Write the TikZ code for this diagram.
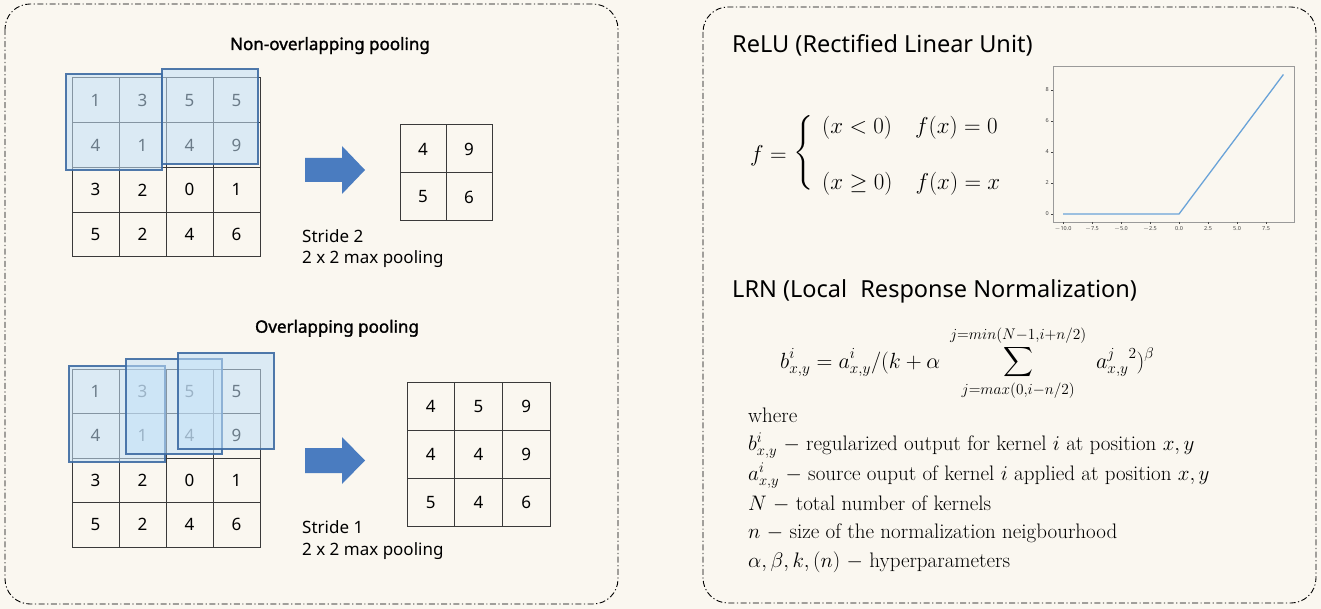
\RequirePackage{fix-cm}
\documentclass[tikz,border=0pt]{standalone}
\usepackage{exscale}
\usepackage{fontspec}
\newfontfamily\uisans{Noto Sans}
\newfontfamily\uisansbf{Noto Sans}[FakeBold=1.6]
\definecolor{bgcream}{HTML}{FAF7F0}
\definecolor{gridgray}{HTML}{3A3A3A}
\definecolor{winfill}{HTML}{C3E1F9}
\definecolor{winborder}{HTML}{3D6BA3}
\definecolor{arrowblue}{HTML}{4A7CC0}
\definecolor{plotline}{HTML}{6AA3D8}
\definecolor{plotframe}{HTML}{9A9A9A}
\definecolor{ticktext}{HTML}{444444}
\begin{document}
\begin{tikzpicture}[x=1pt,y=-1pt,
  panel/.style={draw=black, line width=0.9pt, rounded corners=25pt,
    dash pattern=on 6pt off 2.5pt on 1.2pt off 2.5pt},
  cell/.style={draw=gridgray, line width=1pt, inner sep=0pt,
    font=\uisans\fontsize{17}{17}\selectfont, text=black},
  win/.style={draw=winborder, line width=1.3pt, fill=winfill,
    fill opacity=0.55, draw opacity=0.9, inner sep=0pt},
  bigarrow/.style={fill=arrowblue},
  secttitle/.style={anchor=base, inner sep=0pt, font=\uisansbf\fontsize{17}{20}\selectfont},
  caption/.style={anchor=base west, inner sep=0pt, font=\uisans\fontsize{17}{20}\selectfont},
  bigtitle/.style={anchor=base west, inner sep=0pt, font=\uisans\fontsize{23.5}{28}\selectfont},
  tick/.style={draw=ticktext, line width=0.4pt},
  ticklab/.style={inner sep=0pt, text=ticktext, font=\uisans\fontsize{5.5}{6}\selectfont},
  relutext/.style={anchor=base west, inner sep=0pt, font=\fontsize{23}{27}\selectfont},
  whereline/.style={anchor=base west, inner sep=0pt, font=\fontsize{21}{24}\selectfont}
]
\useasboundingbox (0,0) rectangle (1321,609);
\fill[bgcream] (0,0) rectangle (1321,609);

% panels
\draw[panel] (5,4) rectangle (618,604);
\draw[panel] (703,7) rectangle (1316,603);

% ---------- Non-overlapping pooling ----------
\node[secttitle] (t1) at (330,50) {Non-overlapping pooling};
\foreach \row [count=\r] in {{1,3,5,5},{4,1,4,9},{3,2,0,1},{5,2,4,6}} {
  \foreach \v [count=\c] in \row {
    \node[cell, minimum width=47pt, minimum height=44.75pt] (a\r\c)
      at ({72+47*(\c-0.5)},{78+44.75*(\r-0.5)}) {\v};
  }
}
\node[win, minimum width=96pt, minimum height=96pt] (wa1) at (114,122) {};
\node[win, minimum width=96pt, minimum height=95pt] (wa2) at (210,116.5) {};

\fill[bigarrow] (305,158) -- (342,158) -- (342,146) -- (365,170) -- (342,194) -- (342,182) -- (305,182) -- cycle;

\foreach \row [count=\r] in {{4,9},{5,6}} {
  \foreach \v [count=\c] in \row {
    \node[cell, minimum width=46pt, minimum height=48pt] (p\r\c)
      at ({400+46*(\c-0.5)},{125+48*(\r-0.5)}) {\v};
  }
}
\node[caption] (s1a) at (302,243) {Stride 2};
\node[caption] (s1b) at (302,264) {2 x 2 max pooling};

% ---------- Overlapping pooling ----------
\node[secttitle] (t2) at (337,332.7) {Overlapping pooling};
\foreach \row [count=\r] in {{1,3,5,5},{4,1,4,9},{3,2,0,1},{5,2,4,6}} {
  \foreach \v [count=\c] in \row {
    \node[cell, minimum width=47pt, minimum height=44.5pt] (b\r\c)
      at ({72+47*(\c-0.5)},{369+44.5*(\r-0.5)}) {\v};
  }
}
\node[win, minimum width=96pt, minimum height=96pt] (wb1) at (117,414) {};
\node[win, minimum width=96pt, minimum height=95pt] (wb2) at (174,406.5) {};
\node[win, minimum width=96pt, minimum height=96pt] (wb3) at (226,401) {};

\fill[bigarrow] (305,448) -- (342,448) -- (342,437) -- (365,460.5) -- (342,484) -- (342,473) -- (305,473) -- cycle;

\foreach \row [count=\r] in {{4,5,9},{4,4,9},{5,4,6}} {
  \foreach \v [count=\c] in \row {
    \node[cell, minimum width=47.7pt, minimum height=48.3pt] (q\r\c)
      at ({407+47.7*(\c-0.5)},{382+48.3*(\r-0.5)}) {\v};
  }
}
\node[caption] (s2a) at (302,533) {Stride 1};
\node[caption] (s2b) at (302,555) {2 x 2 max pooling};

% ---------- ReLU ----------
\node[bigtitle] (relu) at (732,53) {ReLU (Rectified Linear Unit)};
\node[relutext] (fx) at (750,162) {$f =$};
\node[inner sep=0pt, font=\fontsize{23}{27}\selectfont] (brace) at (804,153)
  {$\left\{\rule[-30pt]{0pt}{60pt}\right.$};
\node[relutext] (row1) at (822,134) {$(x<0)\quad f(x)=0$};
\node[relutext] (row2) at (822,190) {$(x\ge 0)\quad f(x)=x$};

% plot
\draw[plotframe, line width=0.8pt] (1053,66) rectangle (1294,222);
\foreach \u/\lab in {-10/{$-$10.0},-7.5/{$-$7.5},-5/{$-$5.0},-2.5/{$-$2.5},0/0.0,2.5/2.5,5/5.0,7.5/7.5} {
  \draw[tick] ({1179+11.6*\u},222) -- ({1179+11.6*\u},224.5);
  \node[ticklab, anchor=base] at ({1179+11.6*\u},231) {\lab};
}
\foreach \v in {0,2,4,6,8} {
  \draw[tick] (1053,{214-15.5*\v}) -- (1050.5,{214-15.5*\v});
  \node[ticklab, anchor=east] at (1049,{214-15.5*\v}) {\v};
}
\draw[plotline, line width=1.3pt] (1063,214) -- (1179,214) -- (1283.4,74.5);

% ---------- LRN ----------
\node[bigtitle] (lrn) at (732,298) {LRN (Local\hspace{0.3em} Response Normalization)};
\node[anchor=base west, inner sep=0pt, font=\fontsize{22}{26}\selectfont] (lrnf) at (780,368)
  {$\displaystyle b^i_{x,y} = a^i_{x,y}/(k+\alpha\; \sum_{j=max(0,i-n/2)}^{j=min(N-1,i+n/2)} \; a^j_{x,y}{}^2)^\beta$};
\node[whereline] (w0) at (748,422) {where};
\node[whereline] (w1) at (748,450) {$b^i_{x,y}$ $-$ regularized output for kernel $i$ at position $x,y$};
\node[whereline] (w2) at (748,480) {$a^i_{x,y}$ $-$ source ouput of kernel $i$ applied at position $x,y$};
\node[whereline] (w3) at (748,510) {$N$ $-$ total number of kernels};
\node[whereline] (w4) at (748,538) {$n$ $-$ size of the normalization neigbourhood};
\node[whereline] (w5) at (748,567) {$\alpha,\beta,k,(n)$ $-$ hyperparameters};
\end{tikzpicture}
\end{document}
